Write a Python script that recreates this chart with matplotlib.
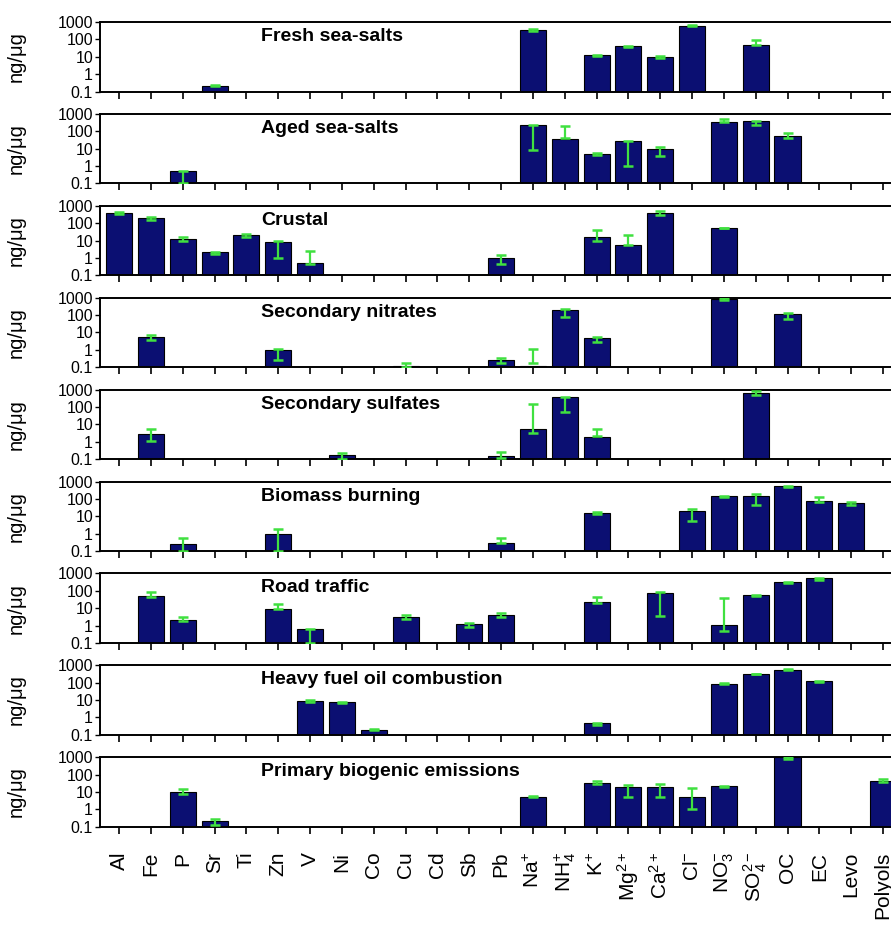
import matplotlib
matplotlib.use('Agg')
import matplotlib.pyplot as plt
import matplotlib.transforms as mtransforms
import numpy as np
from matplotlib.ticker import FixedLocator, FixedFormatter, NullLocator

plt.rcParams['font.family'] = ['Liberation Sans', 'DejaVu Sans']
plt.rcParams['mathtext.fontset'] = 'custom'
plt.rcParams['mathtext.rm'] = 'Liberation Sans'
plt.rcParams['mathtext.it'] = 'Liberation Sans:italic'
plt.rcParams['mathtext.bf'] = 'Liberation Sans:bold'

categories = ['Al', 'Fe', 'P', 'Sr', 'Ti', 'Zn', 'V', 'Ni', 'Co', 'Cu', 'Cd', 'Sb', 'Pb',
              'Na+', 'NH4+', 'K+', 'Mg2+', 'Ca2+', 'Cl-', 'NO3-', 'SO42-', 'OC', 'EC', 'Levo', 'Polyols']
cat_labels = ['Al', 'Fe', 'P', 'Sr', 'Ti', 'Zn', 'V', 'Ni', 'Co', 'Cu', 'Cd', 'Sb', 'Pb',
              r'Na$^{+}$', r'NH$_{4}^{+}$', r'K$^{+}$', r'Mg$^{2+}$', r'Ca$^{2+}$', r'Cl$^{-}$',
              r'NO$_{3}^{-}$', r'SO$_{4}^{2-}$', 'OC', 'EC', 'Levo', 'Polyols']

ytick_vals = [0.1, 1, 10, 100, 1000]
ytick_labels = ['0.1', '1', '10', '100', '1000']

# ---- Fresh sea-salts
fresh_cats = ['Sr', 'Na+', 'K+', 'Mg2+', 'Ca2+', 'Cl-', 'SO42-']
fresh_vals = [0.22, 330, 12, 40, 10, 620, 48]
fresh_lo = [0.2, 300, 11, 37, 9, 560, 48]
fresh_hi = [0.25, 380, 13, 43, 11, 660, 90]

# ---- Aged sea-salts
aged_cats = ['P', 'Na+', 'NH4+', 'K+', 'Mg2+', 'Ca2+', 'NO3-', 'SO42-', 'OC']
aged_vals = [0.55, 240, 34, 5, 27, 9.8, 340, 380, 54]
aged_lo = [0.1, 8, 40, 4.2, 1.0, 3.6, 320, 220, 43]
aged_hi = [0.55, 240, 200, 5.5, 27, 12.8, 500, 390, 80]

# ---- Crustal
crust_cats = ['Al', 'Fe', 'P', 'Sr', 'Ti', 'Zn', 'V', 'Pb', 'K+', 'Mg2+', 'Ca2+', 'NO3-']
crust_vals = [380, 190, 12, 2.1, 22, 8.2, 0.5, 0.95, 15, 5.2, 400, 54]
crust_lo = [330, 145, 9, 1.6, 15, 1.0, 0.42, 0.46, 10, 5.2, 300, 52]
crust_hi = [450, 225, 16, 2.3, 24, 9.8, 2.5, 1.5, 42, 20, 500, 56]

# ---- Secondary nitrates
nit_cats = ['Fe', 'Zn', 'Cu', 'Pb', 'Na+', 'NH4+', 'K+', 'NO3-', 'OC']
nit_vals = [5.4, 0.97, 0.125, 0.26, 0.125, 185, 5.1, 830, 110]
nit_lo = [3.8, 0.25, 0.1, 0.18, 0.18, 75, 3.0, 700, 60]
nit_hi = [7.4, 1.1, 0.18, 0.32, 1.1, 210, 5.8, 950, 135]

# ---- Secondary sulfates
sulf_cats = ['Fe', 'Ni', 'Pb', 'Na+', 'NH4+', 'K+', 'SO42-']
sulf_vals = [2.8, 0.17, 0.16, 5.1, 380, 1.8, 650]
sulf_lo = [1.05, 0.1, 0.11, 3.0, 52, 2.1, 470]
sulf_hi = [5.4, 0.22, 0.24, 147, 380, 5.6, 800]

# ---- Biomass burning
bb_cats = ['P', 'Zn', 'Pb', 'K+', 'Cl-', 'NO3-', 'SO42-', 'OC', 'EC', 'Levo']
bb_vals = [0.26, 1.0, 0.29, 15, 19, 145, 145, 520, 72, 56]
bb_lo = [0.1, 0.1, 0.28, 13, 5.6, 130, 45, 490, 64, 45]
bb_hi = [0.54, 1.85, 0.54, 18.6, 27, 155, 185, 560, 120, 68]

# ---- Road traffic
road_cats = ['Fe', 'P', 'Zn', 'V', 'Cu', 'Sb', 'Pb', 'K+', 'Ca2+', 'NO3-', 'SO42-', 'OC', 'EC']
road_vals = [49, 2.0, 9.5, 0.6, 2.9, 1.15, 3.8, 23, 76, 1.1, 54, 310, 510]
road_lo = [45, 1.8, 8.4, 0.1, 2.4, 0.84, 3.2, 20, 3.5, 0.5, 50, 290, 440]
road_hi = [80, 3.3, 17, 0.62, 4.1, 1.4, 5.4, 43, 83, 38, 57, 340, 560]

# ---- Heavy fuel oil combustion
hfo_cats = ['V', 'Ni', 'Co', 'K+', 'NO3-', 'SO42-', 'OC', 'EC']
hfo_vals = [9.2, 7.3, 0.2, 0.45, 88, 320, 550, 118]
hfo_lo = [8.0, 6.5, 0.18, 0.38, 80, 300, 520, 108]
hfo_hi = [10.0, 8.0, 0.21, 0.5, 92, 335, 580, 125]

# ---- Primary biogenic emissions
pbe_cats = ['P', 'Sr', 'Na+', 'K+', 'Mg2+', 'Ca2+', 'Cl-', 'NO3-', 'OC', 'Polyols']
pbe_vals = [9.5, 0.21, 5.2, 32, 19, 19, 5.2, 21, 980, 42]
pbe_lo = [7.5, 0.12, 5.0, 28, 5.2, 5.2, 1.0, 20, 800, 35]
pbe_hi = [14.6, 0.27, 5.5, 40, 26, 28, 18, 22, 1000, 55]

panels = [
    ('Fresh sea-salts', fresh_cats, fresh_vals, fresh_lo, fresh_hi),
    ('Aged sea-salts', aged_cats, aged_vals, aged_lo, aged_hi),
    ('Crustal', crust_cats, crust_vals, crust_lo, crust_hi),
    ('Secondary nitrates', nit_cats, nit_vals, nit_lo, nit_hi),
    ('Secondary sulfates', sulf_cats, sulf_vals, sulf_lo, sulf_hi),
    ('Biomass burning', bb_cats, bb_vals, bb_lo, bb_hi),
    ('Road traffic', road_cats, road_vals, road_lo, road_hi),
    ('Heavy fuel oil combustion', hfo_cats, hfo_vals, hfo_lo, hfo_hi),
    ('Primary biogenic emissions', pbe_cats, pbe_vals, pbe_lo, pbe_hi),
]

BAR = '#0b0f72'
ERR = '#40e040'

W, H = 891, 926
fig = plt.figure(figsize=(W / 100, H / 100), dpi=100)

n = len(panels)
for i, (title, cats, vals, lo, hi) in enumerate(panels):
    top = 22 + 91.9 * i
    h = 69.5
    ax = fig.add_axes([100 / W, 1 - (top + h) / H, 791 / W, h / H])
    ax.set_yscale('log')
    x = np.array([categories.index(c) for c in cats])
    vals = np.array(vals, float)
    lo = np.array(lo, float)
    hi = np.array(hi, float)
    ax.bar(x, vals, width=0.82, color=BAR, edgecolor='black', linewidth=0.8, zorder=2)
    ax.errorbar(x, lo, yerr=[np.zeros_like(lo), hi - lo], fmt='none', ecolor=ERR,
                elinewidth=1.6, capsize=3.6, capthick=1.8, zorder=3)
    ax.set_ylim(0.1, 1000)
    ax.set_xlim(-0.6, 24.25)
    ax.yaxis.set_major_locator(FixedLocator(ytick_vals))
    ax.yaxis.set_major_formatter(FixedFormatter(ytick_labels))
    ax.yaxis.set_minor_locator(NullLocator())
    ax.set_xticks(range(len(categories)))
    if i == n - 1:
        ax.set_xticklabels(cat_labels, rotation=90, fontsize=15)
        last = ax.get_xticklabels()[-1]
        last.set_transform(last.get_transform() +
                           mtransforms.ScaledTranslation(-5 / 100, 0, fig.dpi_scale_trans))
    else:
        ax.set_xticklabels([])
    ax.tick_params(axis='x', direction='out', length=5, width=1.2, pad=13)
    ax.tick_params(axis='y', direction='out', length=3.5, width=1.0, pad=1.5)
    for lab in ax.get_yticklabels():
        lab.set_fontsize(11.5)
    for s in ['left', 'bottom', 'top']:
        ax.spines[s].set_linewidth(1.4)
    ax.spines['right'].set_visible(False)
    ax.text(0.204, 0.79, title, transform=ax.transAxes,
            fontweight='bold', fontsize=14, ha='left', va='center')
    ax.set_ylabel('ng/\u03bcg', fontsize=14.5)
    ax.yaxis.set_label_coords(-0.094, 0.5)

fig.savefig('out.png', dpi=100)
